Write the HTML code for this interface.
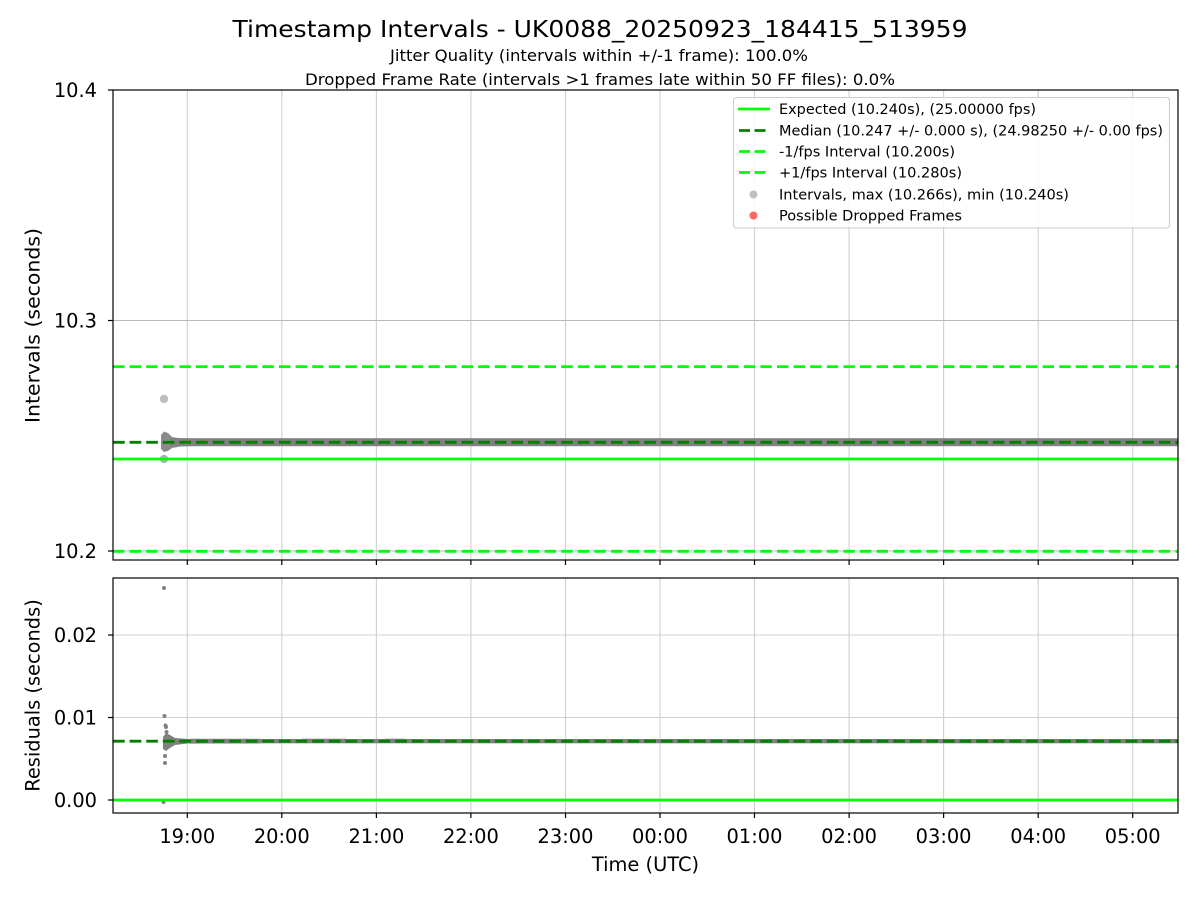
<!DOCTYPE html>
<html>
<head>
<meta charset="utf-8">
<style>
html,body{margin:0;padding:0;background:#fff;}
svg{display:block;}
text{font-family:"DejaVu Sans","Liberation Sans",sans-serif;fill:#000;}
</style>
</head>
<body>
<svg width="1200" height="900" viewBox="0 0 1200 900" xmlns="http://www.w3.org/2000/svg">
<defs>
<clipPath id="ct"><rect x="113" y="90" width="1065" height="470"/></clipPath>
<clipPath id="cb"><rect x="113" y="578" width="1065" height="235"/></clipPath>
</defs>
<rect x="0" y="0" width="1200" height="900" fill="#fff"/>

<!-- Titles -->
<text x="600" y="37" font-size="23" text-anchor="middle" textLength="735" lengthAdjust="spacingAndGlyphs">Timestamp Intervals - UK0088_20250923_184415_513959</text>
<text x="599" y="61" font-size="16" text-anchor="middle" textLength="418" lengthAdjust="spacingAndGlyphs">Jitter Quality (intervals within +/-1 frame): 100.0%</text>
<text x="600" y="85" font-size="16" text-anchor="middle" textLength="590" lengthAdjust="spacingAndGlyphs">Dropped Frame Rate (intervals &gt;1 frames late within 50 FF files): 0.0%</text>

<!-- ========== TOP AXES ========== -->
<g clip-path="url(#ct)">
  <g stroke="#d0d0d0" stroke-width="1.1">
    <line x1="187.3" y1="90" x2="187.3" y2="560"/>
    <line x1="281.8" y1="90" x2="281.8" y2="560"/>
    <line x1="376.4" y1="90" x2="376.4" y2="560"/>
    <line x1="470.9" y1="90" x2="470.9" y2="560"/>
    <line x1="565.5" y1="90" x2="565.5" y2="560"/>
    <line x1="660.0" y1="90" x2="660.0" y2="560"/>
    <line x1="754.5" y1="90" x2="754.5" y2="560"/>
    <line x1="849.1" y1="90" x2="849.1" y2="560"/>
    <line x1="943.6" y1="90" x2="943.6" y2="560"/>
    <line x1="1038.2" y1="90" x2="1038.2" y2="560"/>
    <line x1="1132.7" y1="90" x2="1132.7" y2="560"/>
    <line x1="113" y1="320.5" x2="1178" y2="320.5" stroke="#b8b8b8"/>
    <line x1="113" y1="551" x2="1178" y2="551" stroke="#b8b8b8"/>
  </g>
  <!-- scatter -->
  <circle cx="164" cy="399" r="4.2" fill="#808080" opacity="0.5"/>
  <circle cx="164" cy="459" r="4.2" fill="#808080" opacity="0.6"/>
  <polygon points="161,435 164,431.5 168,433 172,437 180,438.2 196,438.5 196,446 180,446.5 172,448 168,451 164,452 161,449" fill="#8a8a8a"/>
  <rect x="170" y="438.2" width="1010" height="8" fill="#808080"/>
  <!-- lines -->
  <line x1="113" y1="459" x2="1178" y2="459" stroke="#00ff00" stroke-width="2.8"/>
  <line x1="113" y1="366.6" x2="1178" y2="366.6" stroke="#00ff00" stroke-width="2.8" stroke-dasharray="11.4 5.2"/>
  <line x1="113" y1="551.3" x2="1178" y2="551.3" stroke="#00ff00" stroke-width="2.8" stroke-dasharray="11.4 5.2"/>
  <line x1="113" y1="442.3" x2="1178" y2="442.3" stroke="#008000" stroke-width="2.8" stroke-dasharray="11.7 4.9"/>
</g>
<rect x="113" y="90" width="1065" height="470" fill="none" stroke="#000" stroke-width="1.2"/>
<!-- top y ticks -->
<g stroke="#000" stroke-width="1.2">
  <line x1="108" y1="90" x2="113" y2="90"/>
  <line x1="108" y1="320.5" x2="113" y2="320.5"/>
  <line x1="108" y1="551" x2="113" y2="551"/>
  <line x1="187.3" y1="560" x2="187.3" y2="565"/>
  <line x1="281.8" y1="560" x2="281.8" y2="565"/>
  <line x1="376.4" y1="560" x2="376.4" y2="565"/>
  <line x1="470.9" y1="560" x2="470.9" y2="565"/>
  <line x1="565.5" y1="560" x2="565.5" y2="565"/>
  <line x1="660.0" y1="560" x2="660.0" y2="565"/>
  <line x1="754.5" y1="560" x2="754.5" y2="565"/>
  <line x1="849.1" y1="560" x2="849.1" y2="565"/>
  <line x1="943.6" y1="560" x2="943.6" y2="565"/>
  <line x1="1038.2" y1="560" x2="1038.2" y2="565"/>
  <line x1="1132.7" y1="560" x2="1132.7" y2="565"/>
</g>
<g font-size="19.4" text-anchor="end">
  <text x="97" y="97">10.4</text>
  <text x="97" y="327.5">10.3</text>
  <text x="97" y="558">10.2</text>
</g>
<text transform="translate(39.5,325.5) rotate(-90)" font-size="19.4" text-anchor="middle" textLength="195" lengthAdjust="spacingAndGlyphs">Intervals (seconds)</text>

<!-- Legend -->
<rect x="733.5" y="97.5" width="436" height="130.5" rx="3" ry="3" fill="#fff" fill-opacity="0.85" stroke="#cccccc" stroke-width="1.1"/>
<line x1="738" y1="109" x2="770" y2="109" stroke="#00ff00" stroke-width="2.8"/>
<line x1="739" y1="130.5" x2="770" y2="130.5" stroke="#008000" stroke-width="2.8" stroke-dasharray="11 4.5"/>
<line x1="739" y1="151.5" x2="770" y2="151.5" stroke="#00ff00" stroke-width="2.8" stroke-dasharray="11 4.5"/>
<line x1="739" y1="172.5" x2="770" y2="172.5" stroke="#00ff00" stroke-width="2.8" stroke-dasharray="11 4.5"/>
<circle cx="753.5" cy="194.5" r="4" fill="#808080" opacity="0.5"/>
<circle cx="753.5" cy="215.5" r="4" fill="#ff0000" opacity="0.6"/>
<g font-size="13.9">
  <text x="779" y="114" textLength="257" lengthAdjust="spacingAndGlyphs">Expected (10.240s), (25.00000 fps)</text>
  <text x="779" y="135.5" textLength="384" lengthAdjust="spacingAndGlyphs">Median (10.247 +/- 0.000 s), (24.98250 +/- 0.00 fps)</text>
  <text x="779" y="156.5" textLength="176" lengthAdjust="spacingAndGlyphs">-1/fps Interval (10.200s)</text>
  <text x="779" y="177.5" textLength="183" lengthAdjust="spacingAndGlyphs">+1/fps Interval (10.280s)</text>
  <text x="779" y="199.5" textLength="290" lengthAdjust="spacingAndGlyphs">Intervals, max (10.266s), min (10.240s)</text>
  <text x="779" y="220.5" textLength="183" lengthAdjust="spacingAndGlyphs">Possible Dropped Frames</text>
</g>

<!-- ========== BOTTOM AXES ========== -->
<g clip-path="url(#cb)">
  <g stroke="#d0d0d0" stroke-width="1.1">
    <line x1="187.3" y1="578" x2="187.3" y2="813"/>
    <line x1="281.8" y1="578" x2="281.8" y2="813"/>
    <line x1="376.4" y1="578" x2="376.4" y2="813"/>
    <line x1="470.9" y1="578" x2="470.9" y2="813"/>
    <line x1="565.5" y1="578" x2="565.5" y2="813"/>
    <line x1="660.0" y1="578" x2="660.0" y2="813"/>
    <line x1="754.5" y1="578" x2="754.5" y2="813"/>
    <line x1="849.1" y1="578" x2="849.1" y2="813"/>
    <line x1="943.6" y1="578" x2="943.6" y2="813"/>
    <line x1="1038.2" y1="578" x2="1038.2" y2="813"/>
    <line x1="1132.7" y1="578" x2="1132.7" y2="813"/>
    <line x1="113" y1="635" x2="1178" y2="635"/>
    <line x1="113" y1="717.5" x2="1178" y2="717.5"/>
    <line x1="113" y1="800" x2="1178" y2="800"/>
  </g>
  <g fill="#808080">
    <circle cx="164" cy="588" r="2"/>
    <circle cx="164.5" cy="716" r="2"/>
    <circle cx="165.5" cy="725.5" r="2"/>
    <circle cx="166" cy="727" r="2"/>
    <circle cx="166.5" cy="732" r="2"/>
    <circle cx="165.5" cy="737.5" r="2"/>
    <circle cx="165.5" cy="747" r="2"/>
    <circle cx="165" cy="756" r="2"/>
    <circle cx="165" cy="763" r="2"/>
    <circle cx="163.5" cy="802" r="2"/>
    <polygon points="163,737 166,733 170,735 175,738 188,739 200,739.3 200,743.3 188,743.5 175,745 170,748 166,751 163,749"/>
    <rect x="190" y="739" width="990" height="4.3"/>
  </g>
  <rect x="190" y="738.2" width="70" height="5.8" fill="#808080" opacity="0.3"/>
  <rect x="302" y="738" width="44" height="1.2" fill="#808080" opacity="0.3"/>
  <rect x="385" y="738" width="20" height="1.2" fill="#808080" opacity="0.3"/>
  <line x1="113" y1="800" x2="1178" y2="800" stroke="#00ff00" stroke-width="2.8"/>
  <line x1="113" y1="741.2" x2="1178" y2="741.2" stroke="#008000" stroke-width="2.8" stroke-dasharray="11.7 4.9"/>
</g>
<rect x="113" y="578" width="1065" height="235" fill="none" stroke="#000" stroke-width="1.2"/>
<g stroke="#000" stroke-width="1.2">
  <line x1="108" y1="635" x2="113" y2="635"/>
  <line x1="108" y1="717.5" x2="113" y2="717.5"/>
  <line x1="108" y1="800" x2="113" y2="800"/>
  <line x1="187.3" y1="813" x2="187.3" y2="818"/>
  <line x1="281.8" y1="813" x2="281.8" y2="818"/>
  <line x1="376.4" y1="813" x2="376.4" y2="818"/>
  <line x1="470.9" y1="813" x2="470.9" y2="818"/>
  <line x1="565.5" y1="813" x2="565.5" y2="818"/>
  <line x1="660.0" y1="813" x2="660.0" y2="818"/>
  <line x1="754.5" y1="813" x2="754.5" y2="818"/>
  <line x1="849.1" y1="813" x2="849.1" y2="818"/>
  <line x1="943.6" y1="813" x2="943.6" y2="818"/>
  <line x1="1038.2" y1="813" x2="1038.2" y2="818"/>
  <line x1="1132.7" y1="813" x2="1132.7" y2="818"/>
</g>
<g font-size="19.4" text-anchor="end">
  <text x="97" y="642">0.02</text>
  <text x="97" y="724.5">0.01</text>
  <text x="97" y="807">0.00</text>
</g>
<g font-size="19.4" text-anchor="middle">
  <text x="187.3" y="843">19:00</text>
  <text x="281.8" y="843">20:00</text>
  <text x="376.4" y="843">21:00</text>
  <text x="470.9" y="843">22:00</text>
  <text x="565.5" y="843">23:00</text>
  <text x="660.0" y="843">00:00</text>
  <text x="754.5" y="843">01:00</text>
  <text x="849.1" y="843">02:00</text>
  <text x="943.6" y="843">03:00</text>
  <text x="1038.2" y="843">04:00</text>
  <text x="1132.7" y="843">05:00</text>
</g>
<text transform="translate(39.5,695.5) rotate(-90)" font-size="19.4" text-anchor="middle">Residuals (seconds)</text>
<text x="645.5" y="871" font-size="19.4" text-anchor="middle">Time (UTC)</text>
</svg>
</body>
</html>
